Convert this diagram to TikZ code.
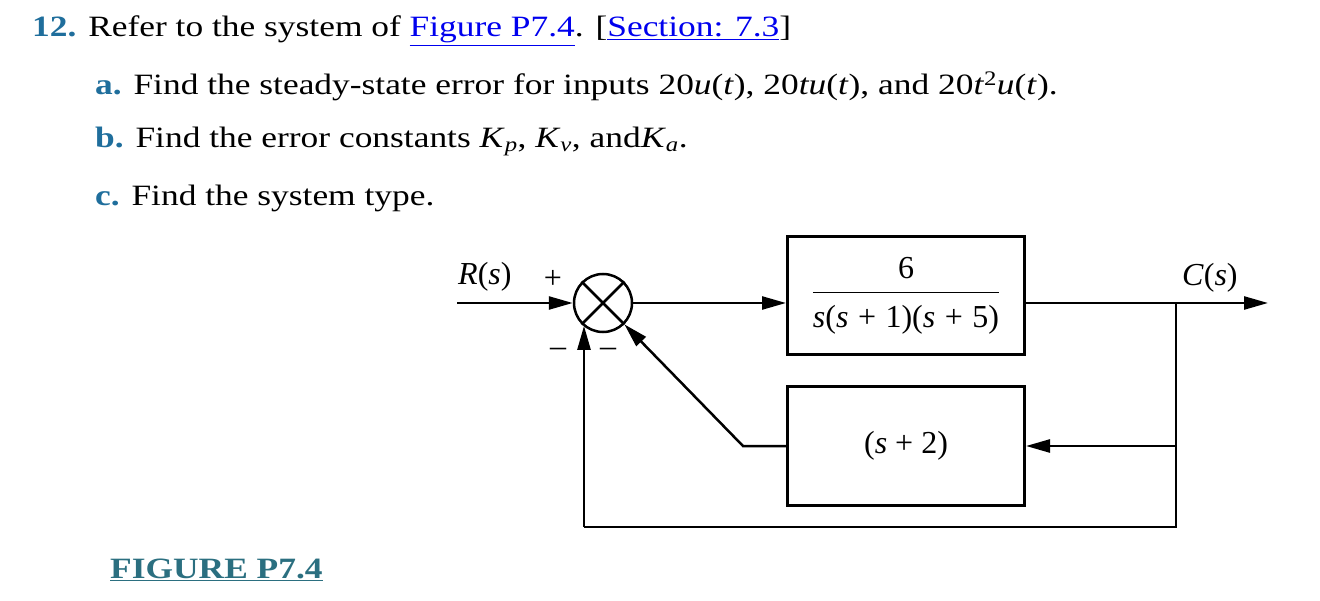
\documentclass[tikz,border=0pt]{standalone}
\usepackage{fontspec}
\setmainfont{Liberation Serif}
\newfontfamily\probfont{Liberation Serif}[FakeStretch=1.2]
\usepackage{xcolor}
\usetikzlibrary{positioning, arrows.meta}
\definecolor{numblue}{HTML}{1F6E9C}
\definecolor{linkblue}{HTML}{0000EE}
\definecolor{figteal}{HTML}{2B6F80}
\tikzset{
  txt/.style={anchor=base west, inner sep=0pt, font=\probfont\fontsize{29.5}{34}\selectfont},
  dia/.style={inner sep=0pt, font=\fontsize{32}{36}\selectfont},
  block/.style={draw, line width=3pt, minimum width=237pt, minimum height=118pt,
    inner sep=0pt, font=\fontsize{32}{36}\selectfont},
  sumnode/.style={draw, circle, line width=2.5pt, minimum size=58pt, inner sep=0pt},
  wire/.style={line width=2.5pt},
  sig/.style={wire, -{Triangle[length=24pt, width=13pt]}},
}
\newcommand{\lnk}[1]{\textcolor{linkblue}{\underline{#1}}}
\newcommand{\itm}[1]{\textcolor{numblue}{\textbf{#1}}}
\newcommand{\sv}{\textit{s}}
\newcommand{\gap}{\hspace{9.5pt}}

\begin{document}
\begin{tikzpicture}[x=1pt, y=-1pt]
  \useasboundingbox (0,0) rectangle (1320,601);

  % problem text
  \node[txt] (head) at (32,37)
    {\itm{12.} Refer to the system of \lnk{Figure P7.4}. [\lnk{Section: 7.3}]};
  \node[txt] (parta) at (95,95)
    {\itm{a.} Find the steady-state error for inputs 20\textit{u}(\textit{t}), 20\textit{tu}(\textit{t}), and 20\textit{t}\textsuperscript{2}\textit{u}(\textit{t}).};
  \node[txt] (partb) at (95,148)
    {\itm{b.} Find the error constants \textit{K}\textsubscript{\textit{p}}, \textit{K}\textsubscript{\textit{v}}, and\textit{K}\textsubscript{\textit{a}}.};
  \node[txt] (partc) at (95,206)
    {\itm{c.} Find the system type.};
  \node[txt] (figname) at (110,578)
    {\textcolor{figteal}{\underline{\textbf{FIGURE P7.4}}}};

  % block diagram
  \node[sumnode] (sum) at (603,303) {};
  \draw[wire] (sum.north west) -- (sum.south east)
              (sum.north east) -- (sum.south west);

  \node[block] (fwd) at (906,296)
    {\setlength{\tabcolsep}{0pt}\setlength{\arrayrulewidth}{1.8pt}%
     \begin{tabular}{c}6\\[2pt]\hline\rule{0pt}{34pt}\sv(\sv\gap+\gap1)(\sv\gap+\gap5)\end{tabular}};
  \node[block] (fb) at (906,446) {(\sv{} + 2)};

  \coordinate (in) at (457,303);
  \coordinate (out) at (1268,303);
  \coordinate (branch) at (1176,303);
  \coordinate (br) at (1176,527);
  \coordinate (bl) at (584,527);
  \coordinate (bend) at (743,446);

  \draw[sig] (in) -- (sum.west);
  \draw[sig] (sum.east) -- (sum.east -| fwd.west);
  \draw[sig] (sum.east -| fwd.east) -- (out);
  \draw[sig] (branch) -- (branch |- fb.east) -- (fb.east);
  \draw[wire] (branch) -- (br) -- (bl);
  \draw[sig] (bl) -- (bl |- sum.-131);
  \draw[sig] (fb.west) -- (bend) -- (sum.-45);

  \node[dia, anchor=base west] (rlab) at (458,285) {\textit{R}(\sv)};
  \node[dia] (plus) at (553,279) {+};
  \node[dia] (minusa) at (558,352) {\textendash};
  \node[dia] (minusb) at (608,352) {\textendash};
  \node[dia, anchor=base west] (clab) at (1182,286) {\textit{C}(\sv)};
\end{tikzpicture}
\end{document}
